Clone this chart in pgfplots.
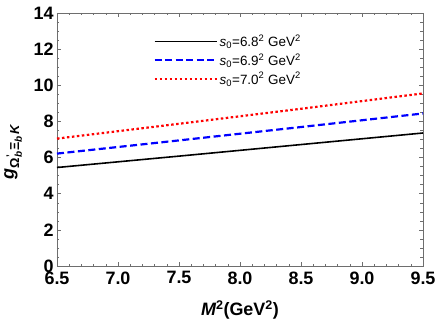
\documentclass[border=0pt]{standalone}
\usepackage{fontspec}
\setmainfont{Liberation Sans}
\usepackage{pgfplots}
\pgfplotsset{compat=1.18}
\definecolor{framegray}{RGB}{110,110,110}

\newcommand{\fs}[1]{\fontsize{#1}{#1}\selectfont}

\begin{document}
\begin{tikzpicture}
\useasboundingbox (-57bp,-61bp) rectangle (379bp,266bp);
\begin{axis}[
    scale only axis,
    width=366bp, height=253bp,
    xmin=6.5, xmax=9.5, ymin=0, ymax=14,
    xtick={6.5,7.0,...,9.5},
    ytick={0,2,...,14},
    minor x tick num=4,
    minor y tick num=3,
    tick align=inside,
    major tick length=4bp,
    minor tick length=2.5bp,
    axis line style={framegray, line width=0.6pt},
    every tick/.style={framegray, line width=0.5pt},
    /pgf/number format/assume math mode=true,
    ticklabel style={font=\bfseries\fs{18}},
    xticklabel style={/pgf/number format/fixed, /pgf/number format/fixed zerofill,
        /pgf/number format/precision=1, yshift=-2bp},
    xlabel={\bfseries\fs{18}\itshape M\upshape\textsuperscript{2}(GeV\textsuperscript{2})},
    xlabel style={at={(axis description cs:0.5,-0.175)}, anchor=center},
    ylabel={\bfseries\fs{18}\itshape g\raisebox{-0.3em}{\fs{13}\upshape Ω\raisebox{0.45em}{\fs{10}'}\hspace{-0.15em}\raisebox{-0.2em}{\fs{10}\itshape b}Ξ\raisebox{-0.2em}{\fs{10}\itshape b}\,\itshape K}},
    ylabel style={at={(axis description cs:-0.12,0.45)}, anchor=center},
    legend style={at={(axis description cs:0.255,0.93)}, anchor=north west,
        draw=none, fill=none, font=\fs{13.5}, row sep=1.5bp},
    legend cell align=left,
    legend image code/.code={\draw[mark repeat=2, mark phase=2, #1] plot coordinates {(0bp,0bp) (31bp,0bp) (62bp,0bp)};},
]
\addplot[black, line width=1.6pt] coordinates {(6.5,5.45) (7.5,6.08) (8.5,6.72) (9.5,7.36)};
\addlegendentry{\itshape s\upshape\textsubscript{0}=6.8\textsuperscript{2} GeV\textsuperscript{2}}
\addplot[blue, line width=2.2pt, dash pattern=on 7bp off 3.5bp] coordinates {(6.5,6.22) (7.5,6.95) (8.5,7.69) (9.5,8.44)};
\addlegendentry{\itshape s\upshape\textsubscript{0}=6.9\textsuperscript{2} GeV\textsuperscript{2}}
\addplot[red, line width=2.2pt, dash pattern=on 2.5bp off 2.5bp] coordinates {(6.5,7.05) (7.5,7.87) (8.5,8.70) (9.5,9.55)};
\addlegendentry{\itshape s\upshape\textsubscript{0}=7.0\textsuperscript{2} GeV\textsuperscript{2}}
\end{axis}
\end{tikzpicture}
\end{document}
